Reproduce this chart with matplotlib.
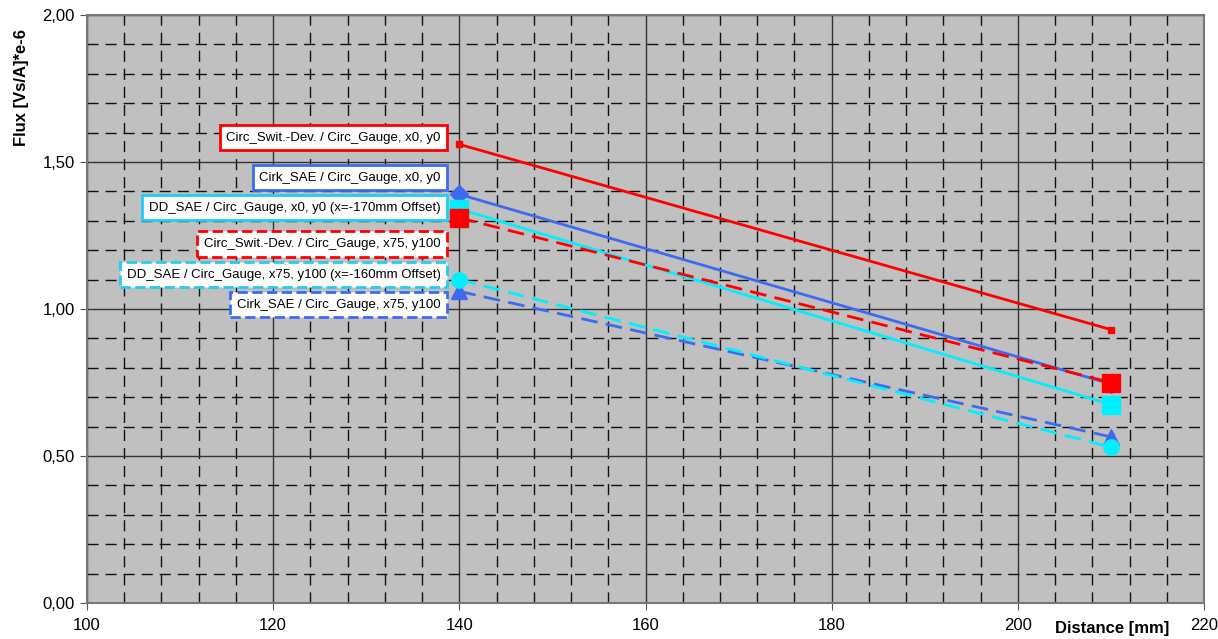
import numpy as np
import matplotlib.pyplot as plt
from matplotlib.ticker import MultipleLocator, FuncFormatter

plt.rcParams['font.family'] = ['Liberation Sans', 'DejaVu Sans']

# data
distance = [140, 210]
circ_swit_x0y0 = [1.56, 0.93]
cirk_sae_x0y0 = [1.39, 0.745]
dd_sae_x0y0 = [1.34, 0.675]
circ_swit_x75y100 = [1.31, 0.75]
dd_sae_x75y100 = [1.10, 0.53]
cirk_sae_x75y100 = [1.06, 0.565]

labels = [
    'Circ_Swit.-Dev. / Circ_Gauge, x0, y0',
    'Cirk_SAE / Circ_Gauge, x0, y0',
    'DD_SAE / Circ_Gauge, x0, y0 (x=-170mm Offset)',
    'Circ_Swit.-Dev. / Circ_Gauge, x75, y100',
    'DD_SAE / Circ_Gauge, x75, y100 (x=-160mm Offset)',
    'Cirk_SAE / Circ_Gauge, x75, y100',
]
label_y = [1.582, 1.446, 1.344, 1.221, 1.116, 1.014]

red = '#ff0000'
blue = '#3d6af0'
cyan = '#00f0ff'
cyan_box = '#22ccf5'

fig = plt.figure(figsize=(12.18, 6.39), dpi=100)
ax = fig.add_axes([87 / 1218, 1 - 603 / 639, (1204 - 87) / 1218, (603 - 15) / 639])
ax.set_facecolor('#c0c0c0')

ax.set_xlim(100, 220)
ax.set_ylim(0, 2)
ax.xaxis.set_major_locator(MultipleLocator(20))
ax.xaxis.set_minor_locator(MultipleLocator(4))
ax.yaxis.set_major_locator(MultipleLocator(0.5))
ax.yaxis.set_minor_locator(MultipleLocator(0.1))
ax.yaxis.set_major_formatter(FuncFormatter(lambda v, p: f'{v:.2f}'.replace('.', ',')))

ax.grid(which='major', color='#333333', linewidth=1.0)
ax.grid(which='minor', color='#111111', linewidth=1.0, linestyle=(0, (8, 5)))
ax.set_axisbelow(True)
ax.tick_params(which='minor', length=0)
ax.tick_params(which='major', labelsize=12, length=5, color='#555555', pad=4)
ax.tick_params(axis='x', pad=6)
for s in ax.spines.values():
    s.set_color('#777777')
    s.set_linewidth(1.5)

# series
ax.plot(distance, circ_swit_x0y0, color=red, lw=2, marker='s', ms=4, zorder=5)
ax.plot(distance, cirk_sae_x0y0, color=blue, lw=2, marker='D', ms=9, zorder=4)
ax.plot(distance, dd_sae_x0y0, color=cyan, lw=2, marker='s', ms=13, zorder=5)
ax.plot(distance, circ_swit_x75y100, color=red, lw=2, ls=(0, (6, 3)), marker='s', ms=13, zorder=5)
ax.plot(distance, dd_sae_x75y100, color=cyan, lw=2, ls=(0, (6, 3)), marker='o', ms=11, zorder=5)
ax.plot(distance, cirk_sae_x75y100, color=blue, lw=2, ls=(0, (6, 3)), marker='^', ms=11, zorder=4)

# label boxes
edge_colors = [red, blue, cyan_box, red, cyan_box, blue]
edge_styles = ['-', '-', '-', '--', '--', '--']
for txt, y, ec, es in zip(labels, label_y, edge_colors, edge_styles):
    ax.text(138.0, y, txt, ha='right', va='center', fontsize=9.5, zorder=6,
            bbox=dict(boxstyle='square,pad=0.5', fc='white', ec=ec, lw=2, ls=es))

# axis labels
fig.text(22 / 1218, 1 - 87 / 639, 'Flux [Vs/A]*e-6', rotation=90, ha='center', va='center',
         fontsize=12, fontweight='bold')
fig.text(1112 / 1218, 1 - 628 / 639, 'Distance [mm]', ha='center', va='center',
         fontsize=12, fontweight='bold')

plt.savefig('out.png', dpi=100)
